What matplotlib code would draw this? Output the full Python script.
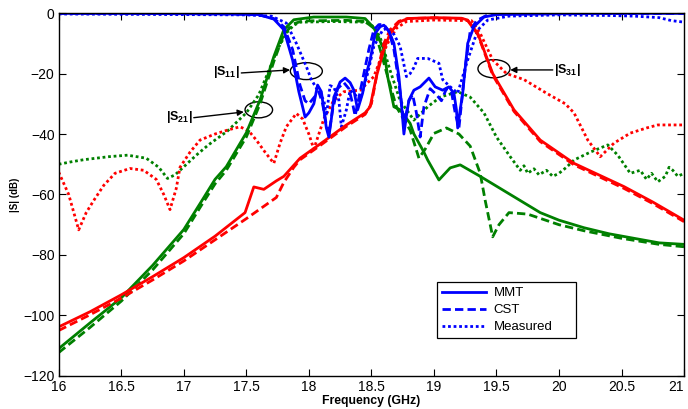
import matplotlib
matplotlib.use('Agg')
import matplotlib.pyplot as plt
from matplotlib.patches import Ellipse

plt.rcParams['font.family'] = ['Liberation Sans', 'DejaVu Sans']
plt.rcParams['mathtext.fontset'] = 'custom'
plt.rcParams['mathtext.rm'] = 'Liberation Sans'
plt.rcParams['mathtext.it'] = 'Liberation Sans:italic'
plt.rcParams['mathtext.bf'] = 'Liberation Sans:bold'

# ---- S11 (blue) ----
f11_mmt = [16.0, 16.5, 17.0, 17.4, 17.6, 17.72, 17.8, 17.87, 17.92, 17.95, 17.97, 18.0, 18.04, 18.07,
           18.1, 18.12, 18.14, 18.16, 18.18, 18.2, 18.25, 18.29, 18.33, 18.36, 18.39, 18.43, 18.46,
           18.49, 18.53, 18.57, 18.6, 18.64, 18.68, 18.72, 18.74, 18.76, 18.78, 18.8, 18.84, 18.89,
           18.96, 19.01, 19.07, 19.12, 19.16, 19.18, 19.19, 19.21, 19.23, 19.27, 19.32, 19.4, 19.5,
           20.0, 20.5, 21.0]
s11_mmt = [-0.1, -0.1, -0.2, -0.3, -0.5, -2.0, -5.5, -15.5, -26, -31, -34.4, -33, -30, -23.8,
           -26, -32, -38, -41, -35, -27.8, -22.8, -21.5, -23, -25.5, -32, -26.5, -20,
           -15.5, -6.7, -4.5, -4, -6, -10, -21, -30, -40, -34, -28.8, -25.5, -24.4,
           -21.5, -24.4, -25.5, -24.4, -26.5, -32, -38, -32, -26.5, -10, -4.5, -1.3, -0.5,
           -0.2, -0.1, -0.1]

f11_cst = [16.0, 17.0, 17.4, 17.6, 17.72, 17.8, 17.87, 17.93, 17.97, 18.0, 18.04, 18.08, 18.11, 18.14,
           18.16, 18.19, 18.23, 18.28, 18.32, 18.35, 18.37, 18.4, 18.44, 18.48, 18.52, 18.56, 18.6,
           18.64, 18.68, 18.72, 18.75, 18.77, 18.8, 18.83, 18.86, 18.89, 18.92, 18.97, 19.02, 19.06,
           19.1, 19.14, 19.17, 19.2, 19.22, 19.25, 19.29, 19.34, 19.42, 19.5, 21.0]
s11_cst = [-0.1, -0.2, -0.3, -0.6, -1.8, -4.5, -12, -24, -29, -30, -28, -26, -30, -37,
           -40, -32, -25, -23, -25, -30, -34, -28, -20, -12, -5.5, -3.8, -3.8,
           -6, -12, -23, -33, -35, -29, -27, -33, -41, -31, -25, -27, -29,
           -25, -26, -33, -38, -30, -18, -6, -2.5, -0.8, -0.3, -0.1]

f11_meas = [16.0, 16.5, 17.0, 17.5, 17.7, 17.82, 17.9, 17.98, 18.02, 18.07, 18.12, 18.14, 18.17,
            18.2, 18.24, 18.26, 18.3, 18.33, 18.37, 18.41, 18.47, 18.52, 18.59, 18.63, 18.68, 18.73,
            18.78, 18.81, 18.84, 18.87, 18.95, 19.04, 19.07, 19.12, 19.19, 19.23, 19.27, 19.35,
            19.43, 19.6, 20.0, 20.4, 20.6, 20.8, 20.9, 21.0]
s11_meas = [-0.3, -0.4, -0.5, -0.6, -1.0, -3.3, -10, -17.7, -22, -25.5, -28.8, -34, -24,
            -24.5, -28.8, -37.6, -32, -25.5, -27, -28.8, -20, -11, -5.6, -5, -7, -11,
            -21, -20, -18, -15, -15, -16.6, -22, -24, -26.5, -21, -15.5, -5.6,
            -2.3, -1.0, -0.6, -0.8, -1.0, -1.5, -2.5, -3.0]

# ---- S21 (green) ----
f21_mmt = [16.0, 16.25, 16.5, 16.75, 17.0, 17.15, 17.25, 17.34, 17.5, 17.61, 17.72, 17.8, 17.88,
           18.04, 18.3, 18.45, 18.52, 18.6, 18.63, 18.68, 18.73, 18.81, 18.84, 18.92, 18.95, 19.04,
           19.13, 19.21, 19.37, 19.53, 19.69, 19.85, 20.0, 20.2, 20.4, 20.6, 20.8, 21.0]
s21_mmt = [-111, -102.5, -94.2, -83.5, -71.6, -61.7, -55, -50.8, -39.6, -28.7, -14.4, -5.5, -2.2,
           -1.3, -1.3, -1.8, -4.9, -12, -21, -31, -32, -36.5, -40, -46, -48.6, -55.2,
           -51.2, -50.2, -54, -58, -62, -66, -68.5, -71, -73, -74.5, -76, -76.5]

f21_cst = [16.0, 16.25, 16.5, 16.75, 17.0, 17.15, 17.25, 17.34, 17.5, 17.61, 17.72, 17.8, 17.88,
           17.95, 18.3, 18.45, 18.52, 18.57, 18.63, 18.7, 18.77, 18.81, 18.88, 18.93, 19.0, 19.1,
           19.2, 19.29, 19.37, 19.41, 19.47, 19.52, 19.6, 19.75, 20.0, 20.2, 20.5, 20.8, 21.0]
s21_cst = [-112.3, -104, -95.3, -85, -73, -63, -56.5, -52, -41, -30, -16, -7, -3.5,
           -2.6, -2.4, -2.8, -5, -12, -21, -31, -36, -38.7, -48, -45, -39.8, -38,
           -40, -44, -53, -62, -74, -70, -66, -66.5, -70, -72, -74.5, -76.5, -77.3]

f21_meas = [16.0, 16.1, 16.2, 16.3, 16.4, 16.55, 16.7, 16.8, 16.87, 16.93, 16.97, 17.1, 17.2, 17.35,
            17.5, 17.6, 17.67, 17.75, 17.82, 17.88, 17.93, 18.2, 18.45, 18.52, 18.57, 18.65, 18.73,
            18.84, 18.95, 19.05, 19.19, 19.29, 19.4, 19.5, 19.61, 19.69, 19.72, 19.75, 19.8, 19.84,
            19.9, 19.95, 20.0, 20.06, 20.12, 20.25, 20.39, 20.47, 20.57, 20.65, 20.7, 20.74, 20.79,
            20.85, 20.88, 20.91, 20.95, 21.0]
s21_meas = [-50, -49.2, -48.5, -48, -47.5, -47, -48, -51, -54.7, -53.5, -52, -47, -43.5, -39,
            -33, -27, -20, -12, -6.6, -4, -3, -2.8, -3, -4.5, -8, -19, -29,
            -35.4, -31, -27.8, -26, -27.8, -33, -41, -47.5, -52, -50.5, -53, -51.5, -53.5,
            -52, -54, -53, -51, -48.6, -46, -43.6, -47, -53, -52, -55, -53, -55.8,
            -54, -51, -52, -54, -53]

# ---- S31 (red) ----
f31_mmt = [16.0, 16.25, 16.5, 16.75, 17.0, 17.25, 17.49, 17.56, 17.64, 17.74, 17.8, 17.93, 18.1,
           18.3, 18.45, 18.49, 18.54, 18.6, 18.65, 18.72, 18.79, 19.0, 19.22, 19.27, 19.35, 19.47,
           19.64, 19.85, 20.12, 20.52, 20.75, 21.0]
s31_mmt = [-103.8, -98.8, -93.2, -87.2, -80.9, -73.8, -66, -57.5, -58.3, -55.5, -54, -48, -43,
           -37, -33, -31, -21, -12, -6.7, -3, -1.8, -1.5, -1.7, -2.3, -6.7, -20,
           -32, -42, -49.7, -57.4, -62.5, -68.5]

f31_cst = [16.0, 16.25, 16.5, 16.75, 17.0, 17.25, 17.5, 17.74, 17.8, 17.88, 17.93, 18.1,
           18.3, 18.45, 18.5, 18.55, 18.6, 18.65, 18.72, 18.79, 19.0, 19.22, 19.27, 19.35, 19.47,
           19.64, 19.85, 20.12, 20.52, 20.75, 21.0]
s31_cst = [-105, -99.8, -94.3, -88.3, -82, -75, -68, -61, -56, -51, -48.5, -43.5,
           -37.5, -33.5, -30, -19, -10, -5.5, -2.7, -1.8, -1.6, -1.8, -2.5, -7, -20.5,
           -32.5, -42.5, -50.2, -58, -63, -69]

f31_meas = [16.0, 16.08, 16.16, 16.22, 16.28, 16.36, 16.45, 16.57, 16.68, 16.78, 16.84, 16.89, 16.94,
            16.97, 17.05, 17.13, 17.25, 17.35, 17.45, 17.52, 17.58, 17.65, 17.72, 17.77, 17.82, 17.9,
            17.95, 18.0, 18.04, 18.08, 18.12, 18.2, 18.28, 18.41, 18.52, 18.57, 18.63, 18.7, 18.78,
            19.0, 19.3, 19.37, 19.47, 19.58, 19.72, 19.9, 20.05, 20.12, 20.23, 20.33, 20.44, 20.57,
            20.7, 20.79, 21.0]
s31_meas = [-52.6, -60, -71.7, -66, -62, -57, -53, -51.4, -52, -55, -60, -65, -58,
            -51, -46, -42, -40, -38.7, -37.6, -39, -42, -46, -49.7, -43, -37.6, -33.2,
            -35, -40, -45, -40, -35, -28.8, -26, -25.5, -21, -15.5, -10, -5, -2.8,
            -2.3, -2.5, -6.7, -15.5, -20, -22, -26.5, -30, -33, -42, -47.5, -43, -39.7,
            -38, -37, -37]

xtick_vals = [16, 16.5, 17, 17.5, 18, 18.5, 19, 19.5, 20, 20.5, 21]
xtick_labels = ['16', '16.5', '17', '17.5', '18', '18.5', '19', '19.5', '20', '20.5', '21']
ytick_vals = [-120, -100, -80, -60, -40, -20, 0]

blue, green, red = '#0000ff', '#008000', '#ff0000'
lw = 2.0
dash = (0, (3, 1.5))
dot = (0, (1, 1))

fig = plt.figure(figsize=(6.88, 4.09), dpi=100)
ax = fig.add_axes([0.0853, 0.081, 0.909, 0.887])

ax.plot(f21_meas, s21_meas, color=green, lw=lw, ls=dot)
ax.plot(f31_meas, s31_meas, color=red, lw=lw, ls=dot)
ax.plot(f11_meas, s11_meas, color=blue, lw=lw, ls=dot)
ax.plot(f21_cst, s21_cst, color=green, lw=lw, ls=dash)
ax.plot(f21_mmt, s21_mmt, color=green, lw=lw)
ax.plot(f31_cst, s31_cst, color=red, lw=lw, ls=dash)
ax.plot(f31_mmt, s31_mmt, color=red, lw=lw)
ax.plot(f11_cst, s11_cst, color=blue, lw=lw, ls=dash)
ax.plot(f11_mmt, s11_mmt, color=blue, lw=lw)

# legend entries (blue handles, as in the original)
h1, = ax.plot([], [], color=blue, lw=lw, label='MMT')
h2, = ax.plot([], [], color=blue, lw=lw, ls=dash, label='CST')
h3, = ax.plot([], [], color=blue, lw=lw, ls=dot, label='Measured')
leg = ax.legend(handles=[h1, h2, h3], loc='lower left', bbox_to_anchor=(0.594, 0.085, 0.243, 0.174),
                mode='expand', fontsize=9.5, fancybox=False, framealpha=1, edgecolor='black',
                handlelength=3.3, borderpad=0.4, labelspacing=0.35, handletextpad=0.6)
leg.get_frame().set_linewidth(0.9)

# annotations
for (cx, cy, w, h) in [(17.98, -19.2, 0.256, 5.6), (17.6, -32.0, 0.22, 5.3), (19.48, -18.4, 0.256, 6.0)]:
    ax.add_patch(Ellipse((cx, cy), w, h, fill=False, edgecolor='black', lw=1.0))

arrow = dict(arrowstyle='-|>', color='black', lw=1.0, mutation_scale=9, shrinkA=0, shrinkB=0)
ax.annotate('', xy=(17.85, -18.8), xytext=(17.46, -19.8), arrowprops=arrow)
ax.annotate('', xy=(17.48, -32.7), xytext=(17.08, -34.6), arrowprops=arrow)
ax.annotate('', xy=(19.61, -18.8), xytext=(19.95, -18.8), arrowprops=arrow)
ax.text(17.45, -19.6, r'|S$_{\mathbf{11}}$|', ha='right', va='center', fontsize=9, fontweight='bold')
ax.text(17.07, -34.4, r'|S$_{\mathbf{21}}$|', ha='right', va='center', fontsize=9, fontweight='bold')
ax.text(19.96, -18.8, r'|S$_{\mathbf{31}}$|', ha='left', va='center', fontsize=9, fontweight='bold')

ax.set_xlim(16, 21)
ax.set_ylim(-120, 0)
ax.set_xticks(xtick_vals)
ax.set_xticklabels(xtick_labels)
ax.set_yticks(ytick_vals)
ax.tick_params(direction='in', top=True, right=True, length=5, width=0.8, labelsize=10, pad=3)
ax.get_xticklabels()[-1].set_horizontalalignment('right')
for s in ax.spines.values():
    s.set_linewidth(1.0)
ax.set_xlabel('Frequency (GHz)', fontsize=8.8, fontweight='bold', labelpad=1)
ax.set_ylabel('|S| (dB)', fontsize=7, fontweight='bold', labelpad=2)

fig.savefig('out.png', dpi=100)
